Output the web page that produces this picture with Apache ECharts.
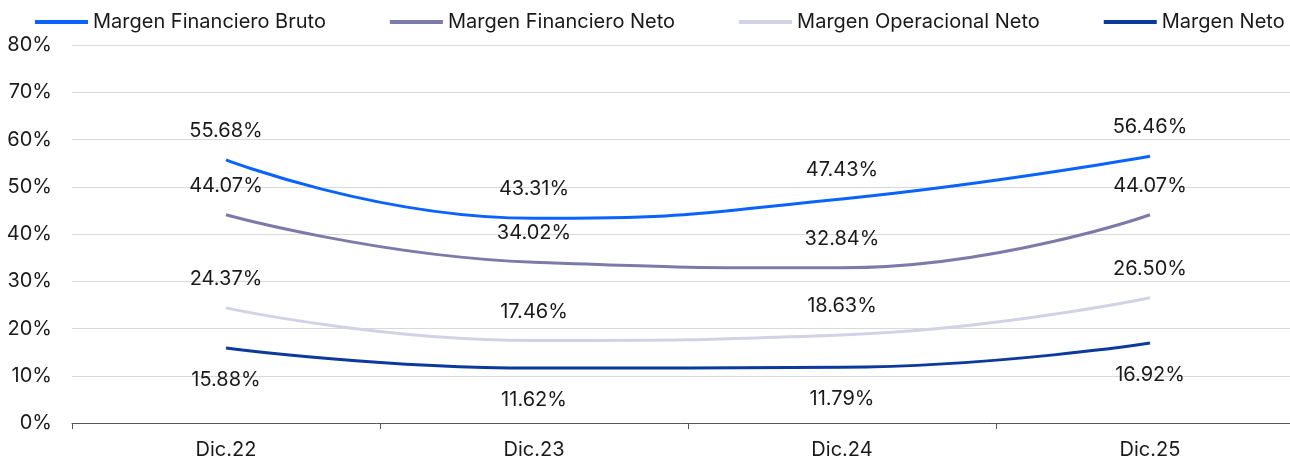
<!DOCTYPE html>
<html>
<head>
<meta charset="utf-8">
<script src="https://cdn.jsdelivr.net/npm/echarts@6/dist/echarts.min.js"></script>
<style>
  html, body { margin: 0; padding: 0; background: #fff; }
  #main { width: 1290px; height: 462px; }
</style>
</head>
<body>
<div id="main"></div>
<script>
const categories = ['Dic.22', 'Dic.23', 'Dic.24', 'Dic.25'];
const seriesNames = ['Margen Financiero Bruto', 'Margen Financiero Neto', 'Margen Operacional Neto', 'Margen Neto'];
const brutoValues = [55.68, 43.31, 47.43, 56.46];
const finNetoValues = [44.07, 34.02, 32.84, 44.07];
const opNetoValues = [24.37, 17.46, 18.63, 26.50];
const netoValues = [15.88, 11.62, 11.79, 16.92];
const colors = ['#0a63ff', '#7c7aa9', '#d2d2e6', '#0b3a9c'];

const font = 'Inter, "Liberation Sans", sans-serif';

const makeSeries = (name, data, color, pos) => ({
  name: name,
  type: 'line',
  data: data,
  smooth: 0.5,
  symbol: 'circle',
  symbolSize: 0,
  showSymbol: true,
  lineStyle: { width: 3, color: color },
  itemStyle: { color: color },
  label: {
    show: true,
    position: pos,
    distance: pos === 'top' ? 19 : 22,
    fontSize: 20,
    fontFamily: font,
    color: '#1a1a1a',
    formatter: p => p.value.toFixed(2) + '%'
  }
});

const chart = echarts.init(document.getElementById('main'));
chart.setOption({
  animation: false,
  color: colors,
  legend: {
    left: 30,
    top: 7,
    icon: 'rect',
    itemWidth: 53,
    itemHeight: 4,
    itemGap: 64,
    textStyle: { fontSize: 20, fontFamily: font, color: '#1a1a1a' },
    data: seriesNames
  },
  grid: { left: 72, right: -14, top: 45, bottom: 39, outerBoundsMode: 'none' },
  xAxis: {
    type: 'category',
    data: categories,
    axisLine: { lineStyle: { color: '#555', width: 1 } },
    axisTick: { show: true, length: 6, lineStyle: { color: '#555' } },
    axisLabel: { fontSize: 20, fontFamily: font, color: '#1a1a1a', margin: 17 }
  },
  yAxis: {
    type: 'value',
    min: 0,
    max: 80,
    interval: 10,
    axisLabel: { fontSize: 20, fontFamily: font, color: '#1a1a1a', margin: 20, formatter: '{value}%' },
    splitLine: { lineStyle: { color: '#d9d9d9', width: 1 } },
    axisLine: { show: false },
    axisTick: { show: false }
  },
  series: [
    makeSeries(seriesNames[0], brutoValues, colors[0], 'top'),
    makeSeries(seriesNames[1], finNetoValues, colors[1], 'top'),
    makeSeries(seriesNames[2], opNetoValues, colors[2], 'top'),
    makeSeries(seriesNames[3], netoValues, colors[3], 'bottom')
  ]
});
</script>
</body>
</html>
